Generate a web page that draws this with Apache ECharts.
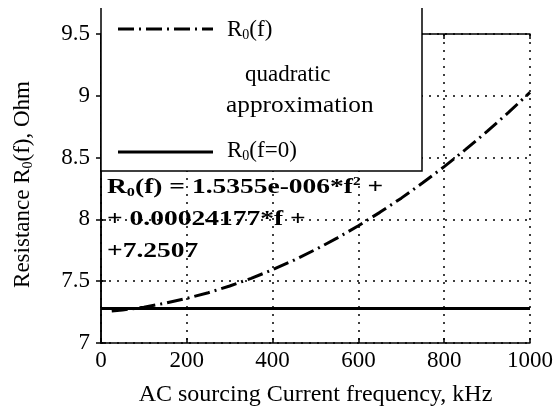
<!DOCTYPE html>
<html>
<head>
<meta charset="utf-8">
<script src="https://cdn.jsdelivr.net/npm/echarts@6/dist/echarts.min.js"></script>
<style>
  html, body { margin: 0; padding: 0; background: #fff; }
  #chart { width: 559px; height: 414px; }
</style>
</head>
<body>
<div id="chart"></div>
<script>
// frequency, kHz
const freq = [25, 50, 100, 150, 200, 250, 300, 350, 400, 450, 500,
  550, 600, 650, 700, 750, 800, 850, 900, 950, 1000]
// R0(f) quadratic approximation, Ohm
const rQuad = [7.258, 7.267, 7.290, 7.322, 7.361, 7.407, 7.461, 7.523, 7.593, 7.670, 7.756,
  7.848, 7.949, 8.057, 8.172, 8.296, 8.427, 8.566, 8.712, 8.866, 9.028]
// R0(f=0), Ohm
const rZeroX = [0, 1000]
const rZero = [7.28, 7.28]
const xTicks = [0, 200, 400, 600, 800, 1000]
const yTicks = [7, 7.5, 8, 8.5, 9, 9.5]

const FONT = 'Liberation Serif'
const dashDot = [16, 5, 2, 5]
const dotted = [2, 6]

const chart = echarts.init(document.getElementById('chart'), null, { renderer: 'canvas' })

const subRich = {
  sub: { fontFamily: FONT, fontSize: 14, verticalAlign: 'bottom', padding: [10, 0, 0, 0], color: '#000' }
}

const option = {
  animation: false,
  backgroundColor: '#fff',
  grid: { left: 101, right: 29, top: 34, bottom: 71 },
  xAxis: [{
    type: 'value',
    min: xTicks[0],
    max: xTicks[xTicks.length - 1],
    interval: 200,
    name: 'AC sourcing Current frequency, kHz',
    nameLocation: 'middle',
    nameGap: 40,
    nameTextStyle: { fontFamily: FONT, fontSize: 24, color: '#000' },
    axisLine: { lineStyle: { color: '#000', width: 1.5 } },
    axisTick: { inside: true, length: 5, lineStyle: { color: '#000', width: 1.5 } },
    axisLabel: { fontFamily: FONT, fontSize: 23, color: '#000', margin: 6, formatter: v => String(v) },
    splitLine: { show: true, lineStyle: { color: '#000', type: dotted, width: 1.5 } }
  }, {
    type: 'value',
    position: 'top',
    min: xTicks[0],
    max: xTicks[xTicks.length - 1],
    interval: 200,
    axisLine: { show: true, lineStyle: { color: '#000', width: 1.5 } },
    axisTick: { show: true, inside: true, length: 5, lineStyle: { color: '#000', width: 1.5 } },
    axisLabel: { show: false },
    splitLine: { show: false }
  }],
  yAxis: [{
    type: 'value',
    min: yTicks[0],
    max: yTicks[yTicks.length - 1],
    interval: 0.5,
    name: 'Resistance R{sub|0}(f), Ohm',
    nameLocation: 'middle',
    nameGap: 66,
    nameTextStyle: { fontFamily: FONT, fontSize: 23, color: '#000', rich: subRich, padding: [0, 0, 0, 8] },
    axisLine: { show: true, lineStyle: { color: '#000', width: 1.5 } },
    axisTick: { show: true, inside: true, length: 5, lineStyle: { color: '#000', width: 1.5 } },
    axisLabel: { fontFamily: FONT, fontSize: 23, color: '#000', margin: 11 },
    splitLine: { show: true, lineStyle: { color: '#000', type: dotted, width: 1.5 } }
  }, {
    type: 'value',
    position: 'right',
    min: yTicks[0],
    max: yTicks[yTicks.length - 1],
    interval: 0.5,
    axisLine: { show: true, lineStyle: { color: '#000', width: 1.5 } },
    axisTick: { show: true, inside: true, length: 5, lineStyle: { color: '#000', width: 1.5 } },
    axisLabel: { show: false },
    splitLine: { show: false }
  }],
  series: [{
    name: 'R0(f)',
    type: 'line',
    data: freq.map((f, i) => [f, rQuad[i]]),
    showSymbol: false,
    lineStyle: { color: '#000', width: 3, type: dashDot },
    z: 3
  }, {
    name: 'R0(f=0)',
    type: 'line',
    data: rZeroX.map((f, i) => [f, rZero[i]]),
    showSymbol: false,
    lineStyle: { color: '#000', width: 3 },
    z: 4
  }],
  graphic: [
    // legend box, drawn over the grid
    {
      type: 'rect', z: 100,
      shape: { x: 101, y: 8, width: 321, height: 163 },
      style: { fill: '#fff', stroke: null }
    },
    {
      type: 'polyline', z: 101,
      shape: { points: [[101, 8], [101, 171], [422, 171], [422, 8]] },
      style: { stroke: '#000', lineWidth: 1.5, fill: null }
    },
    {
      type: 'line', z: 101,
      shape: { x1: 118, y1: 29, x2: 213, y2: 29 },
      style: { stroke: '#000', lineWidth: 3, lineDash: dashDot }
    },
    {
      type: 'text', z: 101, x: 227, y: 30,
      style: {
        text: 'R{sub|0}(f)', fontFamily: FONT, fontSize: 23, fill: '#000', verticalAlign: 'middle',
        rich: subRich
      }
    },
    {
      type: 'text', z: 101, x: 245, y: 75,
      style: { text: 'quadratic', fontFamily: FONT, fontSize: 23, fill: '#000', verticalAlign: 'middle' }
    },
    {
      type: 'text', z: 101, x: 226, y: 106, scaleX: 1.1,
      style: { text: 'approximation', fontFamily: FONT, fontSize: 23, fill: '#000', verticalAlign: 'middle' }
    },
    {
      type: 'line', z: 101,
      shape: { x1: 118, y1: 152, x2: 213, y2: 152 },
      style: { stroke: '#000', lineWidth: 3 }
    },
    {
      type: 'text', z: 101, x: 227, y: 151,
      style: {
        text: 'R{sub|0}(f=0)', fontFamily: FONT, fontSize: 23, fill: '#000', verticalAlign: 'middle',
        rich: subRich
      }
    },
    // fitted formula
    {
      type: 'text', z: 101, x: 107, y: 219, scaleX: 1.25,
      style: {
        text: 'R{bsub|0}(f) = 1.5355e-006*f{bsup|2} +\n+ 0.00024177*f +\n+7.2507',
        fontFamily: FONT, fontSize: 22, fontWeight: 'bold', fill: '#000',
        verticalAlign: 'middle', lineHeight: 32,
        rich: {
          bsub: { fontFamily: FONT, fontSize: 13, fontWeight: 'bold', padding: [12, 0, 0, 0] },
          bsup: { fontFamily: FONT, fontSize: 12, fontWeight: 'bold', padding: [0, 0, 10, 0] }
        }
      }
    }
  ]
}

chart.setOption(option)
</script>
</body>
</html>
